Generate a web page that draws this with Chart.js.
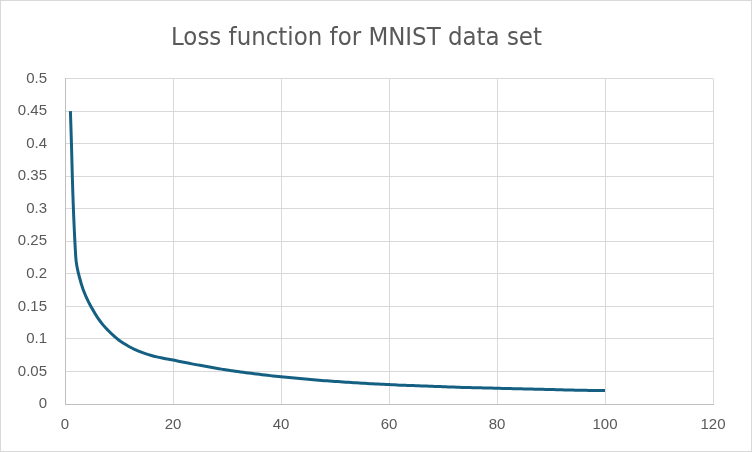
<!DOCTYPE html>
<html>
<head>
<meta charset="utf-8">
<script src="https://cdn.jsdelivr.net/npm/chart.js@4/dist/chart.umd.min.js"></script>
<style>
  html, body { margin: 0; padding: 0; background: #ffffff; }
  #wrap { width: 752px; height: 452px; }
</style>
</head>
<body>
<div id="wrap"><canvas id="c" width="752" height="452"></canvas></div>
<script>
const chartTitle = "Loss function for MNIST data set";
const epochs = [
  1,2,3,4,5,6,7,8,9,10,
  11,12,13,14,15,16,17,18,19,20,
  21,22,23,24,25,26,27,28,29,30,
  31,32,33,34,35,36,37,38,39,40,
  41,42,43,44,45,46,47,48,49,50,
  51,52,53,54,55,56,57,58,59,60,
  61,62,63,64,65,66,67,68,69,70,
  71,72,73,74,75,76,77,78,79,80,
  81,82,83,84,85,86,87,88,89,90,
  91,92,93,94,95,96,97,98,99,100
];
const loss = [
  0.450,0.225,0.185,0.163,0.147,0.133,0.122,0.113,0.105,0.098,
  0.0925,0.0875,0.0835,0.0800,0.0770,0.0745,0.0724,0.0706,0.0690,0.0675,
  0.0658,0.0641,0.0625,0.0609,0.0594,0.0579,0.0564,0.0550,0.0536,0.0522,
  0.0510,0.0498,0.0487,0.0476,0.0466,0.0456,0.0446,0.0436,0.0427,0.0418,
  0.0410,0.0402,0.0394,0.0387,0.0380,0.0373,0.0366,0.0359,0.0353,0.0347,
  0.0341,0.0335,0.0330,0.0325,0.0320,0.0315,0.0310,0.0306,0.0302,0.0298,
  0.0294,0.0290,0.0287,0.0284,0.0281,0.0278,0.0275,0.0272,0.0269,0.0266,
  0.0263,0.0260,0.0257,0.0254,0.0252,0.0250,0.0248,0.0246,0.0244,0.0242,
  0.0240,0.0238,0.0236,0.0234,0.0232,0.0230,0.0228,0.0226,0.0224,0.0222,
  0.0220,0.0218,0.0216,0.0214,0.0212,0.0210,0.0209,0.0208,0.0207,0.0206
];
const xTickLabels = ["0","20","40","60","80","100","120"];
const yTickLabels = ["0","0.05","0.1","0.15","0.2","0.25","0.3","0.35","0.4","0.45","0.5"];

const points = epochs.map((x, i) => ({ x: x, y: loss[i] }));

const borderPlugin = {
  id: 'outerBorder',
  beforeDraw(chart) {
    const ctx = chart.ctx;
    ctx.save();
    ctx.fillStyle = '#ffffff';
    ctx.fillRect(0, 0, chart.width, chart.height);
    ctx.restore();
  },
  afterDraw(chart) {
    const ctx = chart.ctx;
    ctx.save();
    ctx.strokeStyle = '#d9d9d9';
    ctx.lineWidth = 1;
    ctx.strokeRect(0.5, 0.5, chart.width - 1, chart.height - 1);
    ctx.restore();
  }
};

new Chart(document.getElementById('c'), {
  type: 'scatter',
  data: {
    datasets: [{
      data: points,
      showLine: true,
      borderColor: '#156082',
      backgroundColor: '#156082',
      borderWidth: 3,
      pointRadius: 0,
      pointHoverRadius: 0,
      cubicInterpolationMode: 'default',
      tension: 0.4
    }]
  },
  options: {
    responsive: false,
    animation: false,
    devicePixelRatio: 1,
    layout: { padding: { left: 0, right: 39, top: 0, bottom: 6 } },
    plugins: {
      legend: { display: false },
      tooltip: { enabled: false },
      title: {
        display: true,
        text: chartTitle,
        color: '#595959',
        font: { family: "'Liberation Sans Narrow', 'DejaVu Sans Condensed', sans-serif", size: 25.5, weight: 'normal' },
        padding: { top: 23, bottom: 25 }
      }
    },
    scales: {
      x: {
        type: 'linear',
        min: 0,
        max: 120,
        afterBuildTicks(scale) {
          scale.ticks = xTickLabels.map(v => ({ value: Number(v) }));
        },
        ticks: {
          color: '#595959',
          font: { family: "'Liberation Sans', Arial, sans-serif", size: 15 },
          padding: 12,
          maxRotation: 0,
          callback: (v, i) => xTickLabels[i]
        },
        grid: { color: '#d9d9d9', lineWidth: 1, drawTicks: false },
        border: { color: '#bfbfbf', width: 1 }
      },
      y: {
        type: 'linear',
        min: 0,
        max: 0.5,
        afterBuildTicks(scale) {
          scale.ticks = yTickLabels.map(v => ({ value: Number(v) }));
        },
        afterFit(scale) { scale.width = 65; },
        ticks: {
          color: '#595959',
          font: { family: "'Liberation Sans', Arial, sans-serif", size: 15 },
          padding: 18,
          callback: (v, i) => yTickLabels[i]
        },
        grid: { color: '#d9d9d9', lineWidth: 1, drawTicks: false },
        border: { color: '#bfbfbf', width: 1 }
      }
    }
  },
  plugins: [borderPlugin]
});
</script>
</body>
</html>
